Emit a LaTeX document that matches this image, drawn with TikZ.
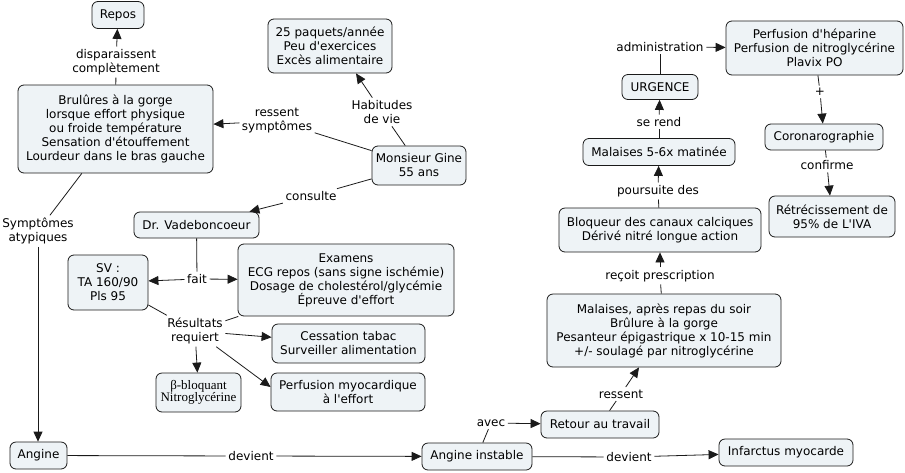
\documentclass[tikz,border=0pt]{standalone}
\usepackage{fontspec}
\newfontfamily\vf{DejaVu Sans}
\newfontfamily\serifb{Liberation Serif}
\usetikzlibrary{arrows.meta}
\definecolor{boxfill}{HTML}{EEF3F6}
\definecolor{boxline}{HTML}{1A1A1A}
\tikzset{
  box/.style={draw=boxline, fill=boxfill, rounded corners=6pt, align=center,
    inner sep=1pt, line width=0.8pt, font=\vf\fontsize{12}{14}\selectfont},
  lab/.style={inner sep=2.5pt, align=center, font=\vf\fontsize{12}{14}\selectfont},
  arr/.style={-{Triangle[length=10pt,width=9pt]}},
  conn/.style={line width=0.8pt, draw=boxline},
}
\begin{document}
\begin{tikzpicture}[x=1pt,y=-1pt]
\useasboundingbox (0,0) rectangle (905,472);
% boxes
\node[box, minimum width=52pt, minimum height=27pt] (repos) at (118,15) {Repos};
\node[box, minimum width=124pt, minimum height=54pt] (paquets) at (330,46) {25 paquets/année\\Peu d'exercices\\Excès alimentaire};
\node[box, minimum width=195pt, minimum height=88pt] (brul) at (115.5,129) {Brulûres à la gorge\\lorsque effort physique\\ou froide température\\Sensation d'étouffement\\Lourdeur dans le bras gauche};
\node[box, minimum width=94pt, minimum height=39pt] (gine) at (419,165.5) {Monsieur Gine\\55 ans};
\node[box, minimum width=125pt, minimum height=26pt] (dr) at (196.5,225) {Dr. Vadeboncoeur};
\node[box, minimum width=80pt, minimum height=55pt] (sv) at (108,282.5) {SV :\\TA 160/90\\Pls 95};
\node[box, minimum width=216pt, minimum height=72pt] (exam) at (346,280) {Examens\\ECG repos (sans signe ischémie)\\Dosage de cholestérol/glycémie\\Épreuve d'effort};
\node[box, minimum width=153pt, minimum height=39pt] (cess) at (348.5,343.5) {Cessation tabac\\Surveiller alimentation};
\node[box, minimum width=85pt, minimum height=39pt, font=\serifb\fontsize{13}{12}\selectfont] (beta) at (198.5,392.5) {β-bloquant\\Nitroglycérine};
\node[box, minimum width=154pt, minimum height=38pt] (perf) at (348,392) {Perfusion myocardique\\à l'effort};
\node[box, minimum width=57pt, minimum height=27pt] (angine) at (38.5,455.5) {Angine};
\node[box, minimum width=110pt, minimum height=27pt] (instable) at (477,456.5) {Angine instable};
\node[box, minimum width=118pt, minimum height=27pt] (retour) at (600,424.5) {Retour au travail};
\node[box, minimum width=234pt, minimum height=73pt] (malrep) at (664,330.5) {Malaises, après repas du soir\\Brûlure à la gorge\\Pesanteur épigastrique x 10-15 min\\+/- soulagé par nitroglycérine};
\node[box, minimum width=134pt, minimum height=27pt] (infarc) at (786,452.5) {Infarctus myocarde};
\node[box, minimum width=202pt, minimum height=44pt] (bloq) at (660,230) {Bloqueur des canaux calciques\\Dérivé nitré longue action};
\node[box, minimum width=152pt, minimum height=27pt] (mal56) at (659,152) {Malaises 5-6x matinée};
\node[box, minimum width=76pt, minimum height=25pt] (urg) at (660,87) {URGENCE};
\node[box, minimum width=177pt, minimum height=54pt] (hep) at (814.5,48) {Perfusion d'héparine\\Perfusion de nitroglycérine\\Plavix PO};
\node[box, minimum width=118pt, minimum height=26pt] (coro) at (824,137) {Coronarographie};
\node[box, minimum width=126pt, minimum height=41pt] (retr) at (832,216.5) {Rétrécissement de\\95\% de L'IVA};
% labels
\node[lab] (ldisp) at (116,62) {disparaissent\\complètement};
\node[lab] (lhab) at (382,112) {Habitudes\\de vie};
\node[lab] (lress) at (277,121) {ressent\\symptômes};
\node[lab] (lcons) at (311,196) {consulte};
\node[lab] (lsympt) at (38,231) {Symptômes\\atypiques};
\node[lab] (lfait) at (197,279) {fait};
\node[lab] (lres) at (195,331) {Résultats\\requiert};
\node[lab] (ldev1) at (251,456) {devient};
\node[lab] (ldev2) at (629,457) {devient};
\node[lab] (lavec) at (491,423) {avec};
\node[lab] (lressent) at (621,394) {ressent};
\node[lab] (lrecoit) at (660,276) {reçoit prescription};
\node[lab] (lpours) at (658,191) {poursuite des};
\node[lab] (lrend) at (659,122) {se rend};
\node[lab] (ladmin) at (660,47) {administration};
\node[lab] (lplus) at (820,92) {+};
\node[lab] (lconf) at (827,165) {confirme};
% connectors
\draw[conn] (brul) -- (ldisp);
\draw[conn,arr] (ldisp) -- (repos);
\draw[conn] (gine) -- (lhab);
\draw[conn,arr] (lhab) -- ([xshift=26pt]paquets.south);
\draw[conn] (gine) -- (lress);
\draw[conn,arr] (lress) -- (brul);
\draw[conn] (gine) -- (lcons);
\draw[conn,arr] (lcons) -- (dr);
\draw[conn] (brul) -- (lsympt);
\draw[conn,arr] (lsympt.south) -- (lsympt.south |- angine.north);
\draw[conn] (dr) -- (lfait);
\draw[conn,arr] (lfait) -- (sv);
\draw[conn,arr] (lfait) -- (exam);
\draw[conn] (sv) -- (lres);
\draw[conn] (exam) -- (lres);
\draw[conn,arr] (lres) -- (cess);
\draw[conn,arr] (lres) -- (beta);
\draw[conn,arr] (lres) -- ([yshift=5pt]perf.west);
\draw[conn] (angine) -- (ldev1);
\draw[conn,arr] (ldev1) -- (instable);
\draw[conn] (instable) -- (lavec);
\draw[conn,arr] (lavec) -- (retour);
\draw[conn] (retour) -- (lressent);
\draw[conn,arr] (lressent) -- (malrep);
\draw[conn] (malrep) -- (lrecoit);
\draw[conn,arr] (lrecoit) -- (bloq);
\draw[conn] (bloq) -- (lpours);
\draw[conn,arr] (lpours) -- (mal56);
\draw[conn] (mal56) -- (lrend);
\draw[conn,arr] (lrend) -- (urg);
\draw[conn] (urg) -- (ladmin);
\draw[conn,arr] (ladmin) -- (hep);
\draw[conn] (hep) -- (lplus);
\draw[conn,arr] (lplus) -- (coro);
\draw[conn] (coro) -- (lconf);
\draw[conn,arr] (lconf) -- (retr);
\draw[conn] (instable) -- (ldev2);
\draw[conn,arr] (ldev2) -- (infarc);
\end{tikzpicture}
\end{document}
